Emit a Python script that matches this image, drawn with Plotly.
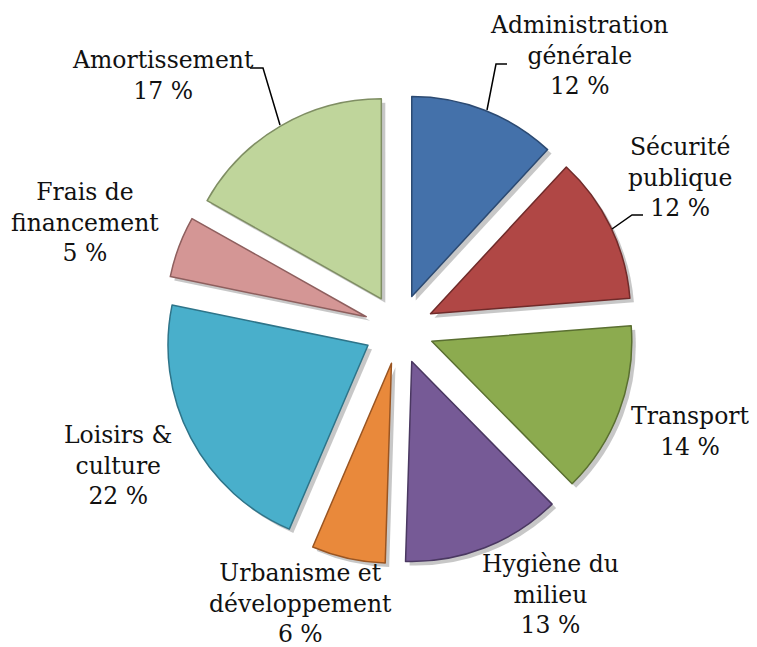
import plotly.graph_objects as go

# ---- data ----
categories = ["Administration<br>générale", "Sécurité<br>publique", "Transport",
              "Hygiène du<br>milieu", "Urbanisme et<br>développement",
              "Loisirs &<br>culture", "Frais de<br>financement", "Amortissement"]
values = [12, 12, 14, 13, 6, 22, 5, 17]

# ---- styles ----
colors = ["#4471AA", "#B04745", "#8CAB4F", "#765A96", "#E9893B", "#49AFCB", "#D49695", "#BFD59B"]
edge_colors = ["#2C4A72", "#702B2A", "#5A6F31", "#4A3861", "#9A5522", "#2E7489", "#8E5F5E", "#7F8E63"]
OFF = 8                     # page body margin
W, H = 757, 647
PULL = 0.175
FONT = "DejaVu Serif"

def px(x, y):
    # window pixel -> paper coords
    return (x - OFF) / W, 1 - (y - OFF) / H

cx, cy, half = 399, 329, 235
def dom(dx=0, dy=0):
    x0, y0 = px(cx - half + dx, cy + half + dy)
    x1, y1 = px(cx + half + dx, cy - half + dy)
    return dict(x=[x0, x1], y=[y0, y1])

fig = go.Figure()
fig.add_trace(go.Pie(
    labels=categories, values=values, sort=False, direction="clockwise", rotation=0,
    pull=[PULL] * len(values), textinfo="none", hoverinfo="skip", showlegend=False,
    marker=dict(colors=["rgba(0,0,0,0.22)"] * len(values), line=dict(width=0)),
    domain=dom(4, 4),
))
fig.add_trace(go.Pie(
    labels=categories, values=values, sort=False, direction="clockwise", rotation=0,
    pull=[PULL] * len(values), textinfo="none", showlegend=False,
    marker=dict(colors=colors, line=dict(color=edge_colors, width=1.5)),
    domain=dom(),
))

# label positions (window-pixel centres of text blocks)
label_pos = [(579, 55), (680, 177), (690, 431), (550, 594), (300, 603), (118, 465), (85, 222), (163, 75)]
for cat, v, (lx, ly) in zip(categories, values, label_pos):
    x, y = px(lx, ly)
    fig.add_annotation(x=x, y=y, xref="paper", yref="paper", text=f"{cat}<br>{v} %",
                       showarrow=False, font=dict(family=FONT, size=23.5, color="#111"),
                       align="center", xanchor="center", yanchor="middle")

# leader lines
leaders = [[(487, 110), (496, 64), (507, 64)],
           [(612, 229), (632, 215), (643, 215)],
           [(280, 125), (263, 68), (250, 68)]]
for pts in leaders:
    path = ""
    for i, (a, b) in enumerate(pts):
        x, y = px(a, b)
        path += ("M" if i == 0 else " L") + f"{x},{y}"
    fig.add_shape(type="path", path=path, xref="paper", yref="paper",
                  line=dict(color="black", width=1.5))

fig.update_layout(width=W, height=H, margin=dict(l=0, r=0, t=0, b=0),
                  paper_bgcolor="white", plot_bgcolor="white")
fig.write_html("out.html")
